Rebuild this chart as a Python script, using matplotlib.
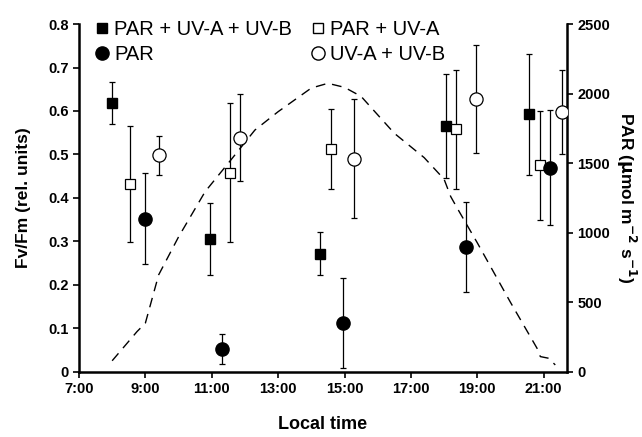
import matplotlib
matplotlib.use("Agg")
import matplotlib.pyplot as plt
from matplotlib.lines import Line2D

plt.rcParams['font.family'] = ['Liberation Sans', 'DejaVu Sans']

# Fv/Fm, hours of local time
t_all = [8.0, 10.95, 14.25, 18.05, 20.55]
fv_all = [0.618, 0.305, 0.272, 0.565, 0.592]
err_all = [0.048, 0.083, 0.05, 0.12, 0.14]

t_uva = [8.55, 11.55, 14.6, 18.35, 20.9]
fv_uva = [0.432, 0.458, 0.512, 0.558, 0.475]
err_uva = [0.133, 0.16, 0.092, 0.137, 0.125]

t_par = [9.0, 11.3, 14.95, 18.65, 21.2]
fv_par = [0.352, 0.053, 0.113, 0.287, 0.47]
err_par = [0.105, 0.035, 0.104, 0.104, 0.132]

t_uvab = [9.4, 11.85, 15.3, 18.95, 21.55]
fv_uvab = [0.498, 0.539, 0.49, 0.628, 0.598]
err_uvab = [0.045, 0.1, 0.137, 0.124, 0.096]

# PAR irradiance, dashed line
t_light = [8.0, 8.75, 9.0, 9.4, 10.0, 10.8, 11.6, 12.3, 13.0, 14.0, 14.5, 15.0,
           15.5, 16.5, 17.4, 18.0, 18.2, 18.4, 19.0, 20.0, 20.8, 20.9, 21.15, 21.35]
par_light = [80, 290, 350, 697, 970, 1295, 1530, 1738, 1870, 2040, 2074, 2045,
             1980, 1715, 1540, 1385, 1260, 1175, 928, 500, 170, 110, 98, 50]

xticks = [7, 9, 11, 13, 15, 17, 19, 21]
xlabels = ['7:00', '9:00', '11:00', '13:00', '15:00', '17:00', '19:00', '21:00']

fig = plt.figure(figsize=(6.42, 4.37), dpi=100)
ax = fig.add_axes([0.123, 0.149, 0.76, 0.796])
ax2 = ax.twinx()

ax2.plot(t_light, par_light, color='black', lw=1.0, dashes=(7, 5))
ax2.set_ylim(0, 2500)
ax2.set_yticks(range(0, 2501, 500))

ekw = dict(ecolor='black', elinewidth=0.9, capsize=2.5, capthick=0.9, linestyle='none')
ax.errorbar(t_all, fv_all, yerr=err_all, marker='s', ms=7.5, mfc='black', mec='black', **ekw)
ax.errorbar(t_uva, fv_uva, yerr=err_uva, marker='s', ms=7.5, mfc='white', mec='black', mew=0.9, **ekw)
ax.errorbar(t_par, fv_par, yerr=err_par, marker='o', ms=9.5, mfc='black', mec='black', **ekw)
ax.errorbar(t_uvab, fv_uvab, yerr=err_uvab, marker='o', ms=9.5, mfc='white', mec='black', mew=0.9, **ekw)
ax.set_zorder(ax2.get_zorder() + 1)
ax.patch.set_visible(False)

ax.set_xlim(7, 21.7)
ax.set_ylim(0, 0.8)
ax.set_xticks(xticks)
ax.set_xticklabels(xlabels)
ax.set_yticks([0, 0.1, 0.2, 0.3, 0.4, 0.5, 0.6, 0.7, 0.8])
ax.set_yticklabels(['0', '0.1', '0.2', '0.3', '0.4', '0.5', '0.6', '0.7', '0.8'])

for a in (ax, ax2):
    a.spines['top'].set_visible(False)
    for s in ('left', 'right', 'bottom'):
        a.spines[s].set_linewidth(1.8)
    a.tick_params(direction='out', length=4, width=1.2, labelsize=10.5)
    for lab in a.get_xticklabels() + a.get_yticklabels():
        lab.set_fontweight('bold')
ax.spines['right'].set_visible(False)
ax2.spines['left'].set_visible(False)
ax2.spines['bottom'].set_visible(False)

ax.set_xlabel('Local time', fontsize=13, fontweight='bold', labelpad=14)
ax.set_ylabel('Fv/Fm (rel. units)', fontsize=12.5, fontweight='bold', labelpad=12)
ax2.set_ylabel(r'PAR ($\mathbf{\mu}$mol m$^{\mathbf{-2}}$ s$^{\mathbf{-1}}$)', fontsize=12.5,
               fontweight='bold', rotation=-90, labelpad=20)

handles = [
    Line2D([], [], marker='s', ms=7.5, color='black', ls='none'),
    Line2D([], [], marker='o', ms=9.5, color='black', ls='none'),
    Line2D([], [], marker='s', ms=7.5, mfc='white', mec='black', ls='none'),
    Line2D([], [], marker='o', ms=9.5, mfc='white', mec='black', ls='none'),
]
names = ['PAR + UV-A + UV-B', 'PAR', 'PAR + UV-A', 'UV-A + UV-B']
ax.legend(handles, names, ncol=2, loc='upper left', bbox_to_anchor=(0.018, 1.035),
          frameon=False, fontsize=14.5, handlelength=0.6, handletextpad=0.3,
          columnspacing=1.0, labelspacing=0.3, borderaxespad=0)

fig.savefig('out.png', dpi=100)
